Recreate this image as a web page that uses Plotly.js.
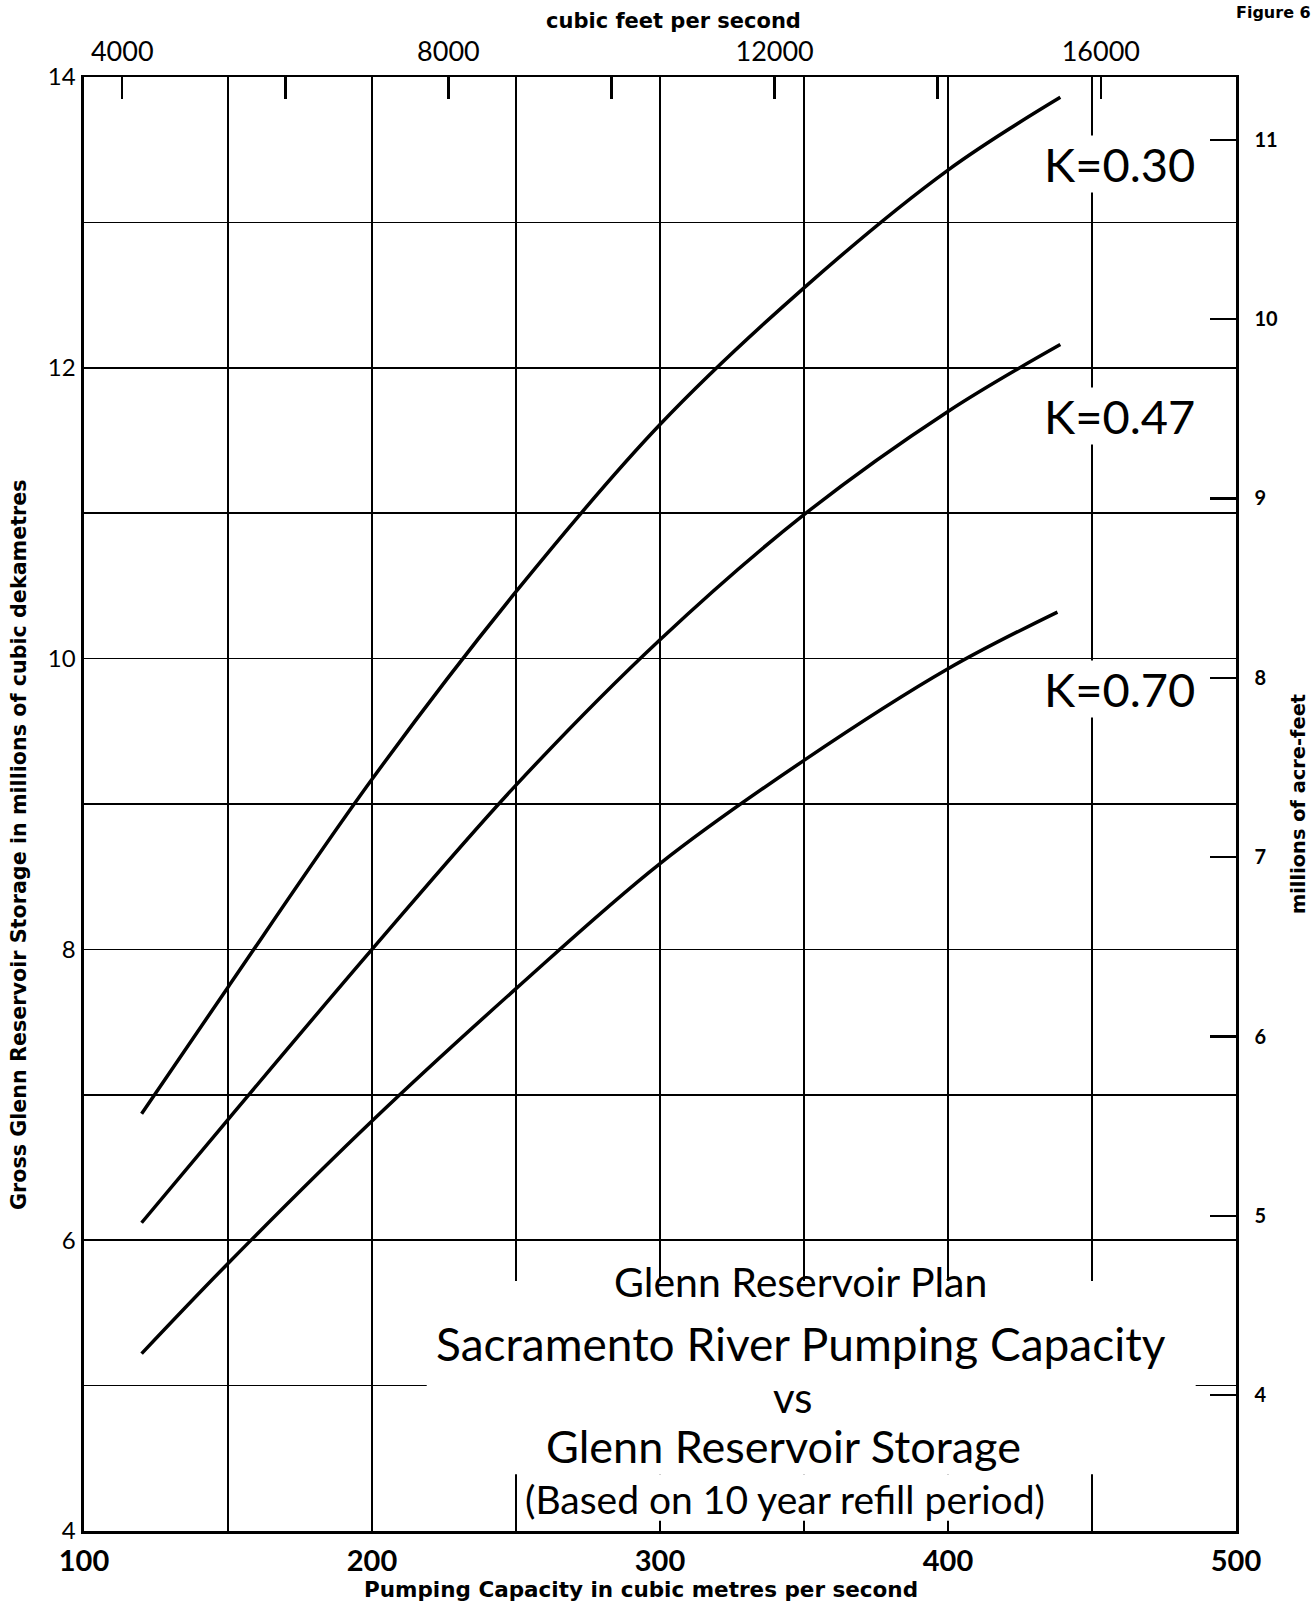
<!DOCTYPE html>
<html>
<head>
<meta charset="utf-8">
<script src="https://cdn.plot.ly/plotly-3.0.1.min.js"></script>
<style>
  html, body { margin: 0; padding: 0; background: #ffffff; }
  #chart { width: 1315px; height: 1606px; }
</style>
</head>
<body>
<div id="chart"></div>
<script>
// Pumping capacity (cubic metres per second) against gross storage
// (millions of cubic dekametres), one curve per K value.
const capacityK030 = [120, 150, 200, 250, 300, 350, 400, 439];
const storageK030  = [6.87, 7.74, 9.17, 10.46, 11.61, 12.55, 13.36, 13.86];

const capacityK047 = [120, 150, 200, 250, 300, 350, 400, 439];
const storageK047  = [6.12, 6.83, 8.00, 9.13, 10.13, 10.99, 11.70, 12.16];

const capacityK070 = [120, 150, 200, 250, 300, 350, 400, 438];
const storageK070  = [5.22, 5.84, 6.82, 7.73, 8.59, 9.30, 9.93, 10.32];

const curveNames = ['K=0.30', 'K=0.47', 'K=0.70'];

// Axis ticks
const cmsTicks    = [100, 150, 200, 250, 300, 350, 400, 450, 500];
const cmsTickText = ['100', '', '200', '', '300', '', '400', '', '500'];
const cfsTicks    = [4000, 6000, 8000, 10000, 12000, 14000, 16000];
const cfsTickText = ['4000', '', '8000', '', '12000', '', '16000'];
const dam3Ticks    = [4, 5, 6, 7, 8, 9, 10, 11, 12, 13, 14];
const dam3TickText = ['4', '', '6', '', '8', '', '10', '', '12', '', '14'];
const mafTicks    = [4, 5, 6, 7, 8, 9, 10, 11];

// Unit conversions for the secondary scales
const CFS_PER_CMS = 35.3147;   // cubic feet per second in one m³/s
const DAM3_PER_AF = 1.23348;   // cubic dekametres in one acre-foot

const CMS_RANGE  = [100, 500];
const DAM3_RANGE = [4, 14];

// Page geometry
const W = 1315, H = 1606;
const M = { l: 84, r: 79, t: 77, b: 75 };
const plotW = W - M.l - M.r;
const plotH = H - M.t - M.b;
const px = x => (x - M.l) / plotW;
const py = y => (H - M.b - y) / plotH;

const LETTER = 'Lato, "Open Sans", "DejaVu Sans", sans-serif';
const LABEL  = '"DejaVu Sans", "Liberation Sans", Arial, sans-serif';
const INK = '#000000';

const lineStyle = { color: INK, width: 3.5, shape: 'spline', smoothing: 1 };

const curves = [
  [capacityK030, storageK030],
  [capacityK047, storageK047],
  [capacityK070, storageK070]
];

const traces = curves.map(([cx, cy], i) => ({
  x: cx, y: cy, name: curveNames[i], mode: 'lines', line: lineStyle,
  xaxis: 'x', yaxis: 'y', hoverinfo: 'skip'
}));

// The same curve expressed in cubic feet per second and in acre-feet,
// so that the secondary (top and right) scales are built by the library.
traces.push({
  x: capacityK030.map(v => v * CFS_PER_CMS), y: storageK030,
  mode: 'none', xaxis: 'x2', yaxis: 'y', hoverinfo: 'skip', showlegend: false
});
traces.push({
  x: capacityK030, y: storageK030.map(v => v / DAM3_PER_AF),
  mode: 'none', xaxis: 'x', yaxis: 'y2', hoverinfo: 'skip', showlegend: false
});

// Curve labels sit just inside the right-hand axis, on a white ground
const curveLabelY = [13.40, 11.67, 9.79];
const curveLabels = curveNames.map((t, i) => ({
  text: t, xref: 'x', yref: 'y', x: 486, y: curveLabelY[i],
  xanchor: 'right', yanchor: 'middle', showarrow: false,
  bgcolor: '#ffffff', borderpad: 0,
  font: { family: LETTER, size: 47, color: INK }
}));

// Title block lettered in the lower right of the grid
const titleLines = [
  { text: 'Glenn Reservoir Plan',               x: 800, y: 1281, size: 41 },
  { text: 'Sacramento River Pumping Capacity',  x: 801, y: 1343, size: 46 },
  { text: 'vs',                                 x: 792, y: 1397, size: 42 },
  { text: 'Glenn Reservoir Storage',            x: 783, y: 1446, size: 45 },
  { text: '(Based on 10 year refill period)',   x: 785, y: 1499, size: 39 }
];
const titleNotes = titleLines.map(l => ({
  text: l.text, xref: 'paper', yref: 'paper', x: px(l.x), y: py(l.y),
  xanchor: 'center', yanchor: 'middle', showarrow: false,
  font: { family: LETTER, size: l.size, color: INK }
}));

const axisTitles = [
  { text: 'cubic feet per second', x: 673, y: 21, angle: 0, size: 21 },
  { text: 'Pumping Capacity in cubic metres per second', x: 641, y: 1590, angle: 0, size: 21.5 },
  { text: 'Gross Glenn Reservoir Storage in millions of cubic dekametres', x: 19, y: 845, angle: -90, size: 20.7 },
  { text: 'millions of acre-feet', x: 1298, y: 804, angle: -90, size: 19.4 }
].map(a => ({
  text: a.text, xref: 'paper', yref: 'paper', x: px(a.x), y: py(a.y),
  xanchor: 'center', yanchor: 'middle', showarrow: false, textangle: a.angle,
  font: { family: LABEL, size: a.size, color: INK, weight: 700 }
}));

// Sheet number in the top right corner
const sheetNote = {
  text: 'Figure 6', xref: 'paper', yref: 'paper', x: px(1313), y: py(1),
  xanchor: 'right', yanchor: 'top', showarrow: false,
  font: { family: LABEL, size: 16, color: INK, weight: 700 }
};

// White panels that mask the grid behind the title block
const panels = [
  { x0: 219, x1: 486, y0: 4.39, y1: 5.72 },
  { x0: 252, x1: 447, y0: 4.07, y1: 4.39 }
].map(p => ({
  type: 'rect', xref: 'x', yref: 'y', x0: p.x0, x1: p.x1, y0: p.y0, y1: p.y1,
  fillcolor: '#ffffff', line: { width: 0 }, layer: 'above'
}));

const layout = {
  width: W, height: H,
  margin: M,
  paper_bgcolor: '#ffffff',
  plot_bgcolor: '#ffffff',
  showlegend: false,
  xaxis: {
    range: CMS_RANGE, tickmode: 'array', tickvals: cmsTicks, ticktext: cmsTickText,
    showgrid: true, gridcolor: INK, gridwidth: 1.5, zeroline: false,
    showline: true, linecolor: INK, linewidth: 3,
    ticks: '', ticklen: 0, ticklabelstandoff: 2,
    tickfont: { family: LETTER, size: 29, color: INK, weight: 700 }
  },
  yaxis: {
    range: DAM3_RANGE, tickmode: 'array', tickvals: dam3Ticks, ticktext: dam3TickText,
    showgrid: true, gridcolor: INK, gridwidth: 1.5, zeroline: false,
    showline: true, linecolor: INK, linewidth: 3.5,
    ticks: '', ticklen: 0, ticklabelstandoff: 0,
    tickfont: { family: LETTER, size: 24, color: INK }
  },
  xaxis2: {
    overlaying: 'x', side: 'top', anchor: 'y',
    range: CMS_RANGE.map(v => v * CFS_PER_CMS),
    tickmode: 'array', tickvals: cfsTicks, ticktext: cfsTickText,
    showgrid: false, zeroline: false,
    showline: true, linecolor: INK, linewidth: 2.5,
    ticks: 'inside', ticklen: 22, tickwidth: 2.5, tickcolor: INK,
    ticklabelstandoff: 3,
    tickfont: { family: LETTER, size: 27, color: INK }
  },
  yaxis2: {
    overlaying: 'y', side: 'right', anchor: 'x',
    range: DAM3_RANGE.map(v => v / DAM3_PER_AF),
    tickmode: 'array', tickvals: mafTicks,
    showgrid: false, zeroline: false,
    showline: true, linecolor: INK, linewidth: 2.5,
    ticks: 'inside', ticklen: 26, tickwidth: 2.5, tickcolor: INK,
    ticklabelstandoff: 12,
    tickfont: { family: LETTER, size: 20, color: INK, weight: 700 }
  },
  shapes: panels,
  annotations: [...curveLabels, ...titleNotes, ...axisTitles, sheetNote]
};

Plotly.newPlot('chart', traces, layout, { displayModeBar: false, staticPlot: true });
</script>
</body>
</html>
